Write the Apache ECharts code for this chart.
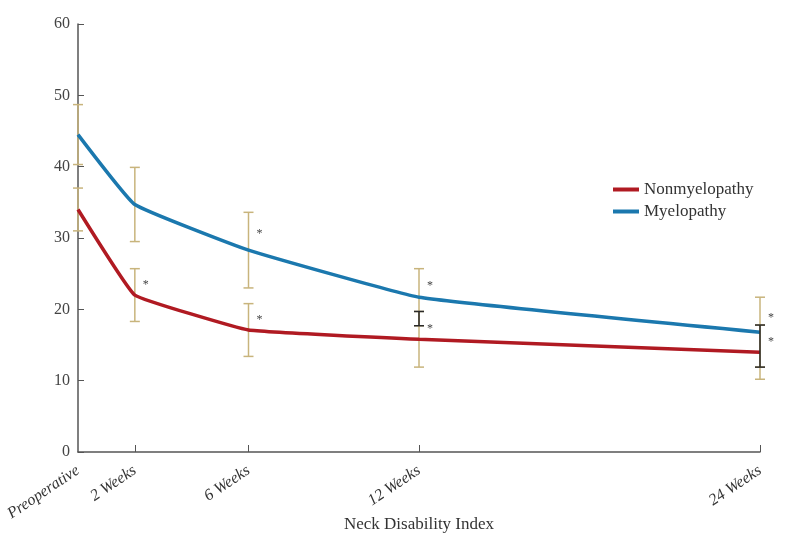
<!DOCTYPE html>
<html><head><meta charset="utf-8">
<script src="https://cdn.jsdelivr.net/npm/echarts@6/dist/echarts.min.js"></script>
<style>html,body{margin:0;padding:0;background:#fff}#c{width:792px;height:551px}</style>
</head><body><div id="c"></div>
<script>
const weeks = [0, 2, 6, 12, 24];
const tickLabels = ['Preoperative', '2 Weeks', '6 Weeks', '12 Weeks', '24 Weeks'];
const yTicks = [0, 10, 20, 30, 40, 50, 60];
const nonMean = [34.0, 22.0, 17.1, 15.8, 14.0];
const nonSD = [3.0, 3.7, 3.7, 3.9, 3.8];
const myeMean = [44.5, 34.7, 28.3, 21.7, 16.8];
const myeSD = [4.2, 5.2, 5.3, 4.0, 4.9];
const nonSig = [false, true, true, true, true];
const myeSig = [false, false, true, true, true];

const FONT = 'Liberation Serif';
const RED = '#b01a22', BLUE = '#1b78ae', TAN = '#c8b47c', DARK = '#2a2a2a';

function errData(mean, sd) {
  return weeks.map((w, i) => [w, mean[i] - sd[i], mean[i] + sd[i]]);
}
function overlapData() {
  const out = [];
  weeks.forEach((w, i) => {
    const lo = Math.max(nonMean[i] - nonSD[i], myeMean[i] - myeSD[i]);
    const hi = Math.min(nonMean[i] + nonSD[i], myeMean[i] + myeSD[i]);
    if (lo < hi) out.push([w, lo, hi]);
  });
  return out;
}
function sigData(mean, sd, sig) {
  const out = [];
  weeks.forEach((w, i) => { if (sig[i]) out.push([w, mean[i], mean[i] + sd[i]]); });
  return out;
}
function errRender(color) {
  return function (params, api) {
    const x = api.value(0), lo = api.value(1), hi = api.value(2);
    const pLo = api.coord([x, lo]), pHi = api.coord([x, hi]);
    const w = 5;
    const style = { stroke: color, lineWidth: 1.5 };
    return { type: 'group', children: [
      { type: 'line', shape: { x1: pLo[0], y1: pLo[1], x2: pHi[0], y2: pHi[1] }, style },
      { type: 'line', shape: { x1: pLo[0] - w, y1: pLo[1], x2: pLo[0] + w, y2: pLo[1] }, style },
      { type: 'line', shape: { x1: pHi[0] - w, y1: pHi[1], x2: pHi[0] + w, y2: pHi[1] }, style }
    ]};
  };
}
function sigRender(params, api) {
  const x = api.value(0), m = api.value(1), hi = api.value(2);
  const p = api.coord([x, (m + hi) / 2]);
  return { type: 'text', x: p[0] + 8, y: p[1] + 3,
    style: { text: '*', fill: '#444', font: '12px "' + FONT + '"', textAlign: 'left', textVerticalAlign: 'middle' } };
}

const chart = echarts.init(document.getElementById('c'));
chart.setOption({
  animation: false,
  backgroundColor: '#fff',
  grid: { left: 78, right: 32, top: 24, bottom: 99 },
  legend: {
    orient: 'vertical', left: 608, top: 176, itemGap: 5,
    itemWidth: 26, itemHeight: 4, icon: 'rect',
    textStyle: { fontFamily: FONT, fontSize: 17, color: '#333' },
    data: ['Nonmyelopathy', 'Myelopathy']
  },
  xAxis: {
    type: 'value', min: 0, max: 24,
    name: 'Neck Disability Index', nameLocation: 'middle', nameGap: 64, nameMoveOverlap: false,
    nameTextStyle: { fontFamily: FONT, fontSize: 17, color: '#333' },
    axisLine: { lineStyle: { color: '#555', width: 1.5 } },
    axisTick: { show: true, inside: true, length: 7, customValues: weeks.slice(1), lineStyle: { color: '#555', width: 1 } },
    axisLabel: {
      customValues: weeks, rotate: 34, margin: 17,
      fontFamily: FONT, fontStyle: 'italic', fontSize: 16, color: '#333',
      formatter: v => tickLabels[weeks.indexOf(v)] || ''
    },
    splitLine: { show: false }
  },
  yAxis: {
    type: 'value', min: 0, max: 60, interval: 10,
    axisLine: { show: true, lineStyle: { color: '#555', width: 1.5 } },
    axisTick: { show: true, inside: true, length: 6, lineStyle: { color: '#555', width: 1 } },
    axisLabel: { fontFamily: FONT, fontSize: 16, color: '#444', margin: 8,
      formatter: v => yTicks.includes(v) ? String(v) : '' },
    splitLine: { show: false }
  },
  series: [
    { name: 'NonErr', type: 'custom', renderItem: errRender(TAN), data: errData(nonMean, nonSD), z: 1, silent: true },
    { name: 'MyeErr', type: 'custom', renderItem: errRender(TAN), data: errData(myeMean, myeSD), z: 1, silent: true },
    { name: 'Nonmyelopathy', type: 'line', data: weeks.map((w, i) => [w, nonMean[i]]),
      smooth: 0.08, symbol: 'none', lineStyle: { color: RED, width: 3.5 }, itemStyle: { color: RED }, z: 3 },
    { name: 'Myelopathy', type: 'line', data: weeks.map((w, i) => [w, myeMean[i]]),
      smooth: 0.1, symbol: 'none', lineStyle: { color: BLUE, width: 3.5 }, itemStyle: { color: BLUE }, z: 3 },
    { name: 'Overlap', type: 'custom', renderItem: errRender(DARK), data: overlapData(), z: 5, silent: true },
    { name: 'SigNon', type: 'custom', renderItem: sigRender, data: sigData(nonMean, nonSD, nonSig), z: 6, silent: true },
    { name: 'SigMye', type: 'custom', renderItem: sigRender, data: sigData(myeMean, myeSD, myeSig), z: 6, silent: true }
  ]
});
</script></body></html>
